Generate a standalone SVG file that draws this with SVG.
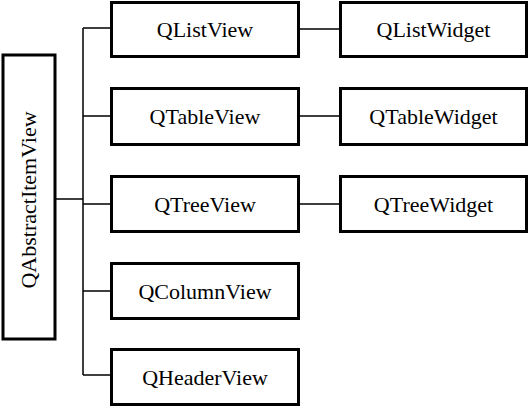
<svg xmlns="http://www.w3.org/2000/svg" width="529" height="408" viewBox="0 0 529 408">
<style>
.box{fill:#fff;stroke:#000;stroke-width:3}
.lbl{font-family:"Liberation Serif","Times New Roman",serif;font-size:22px;fill:#000;text-anchor:middle}
.conn{stroke:#000;stroke-width:1.5;fill:none}
</style>
<rect width="529" height="408" fill="#fff"/>
<g id="connectors">
<path class="conn" d="M55 199H83M83 28V375M83 28H110M83 116H110M83 204H110M83 291H110M83 375H110M300 29H339M300 116H339M300 204H339"/>
</g>
<g id="QAbstractItemView"><rect class="box" x="3" y="55" width="52" height="284"/><text class="lbl" transform="translate(35.5,200) rotate(-90)">QAbstractItemView</text></g>
<g id="QListView"><rect class="box" x="111.5" y="2.5" width="187" height="54"/><text class="lbl" x="205" y="37">QListView</text></g>
<g id="QTableView"><rect class="box" x="111.5" y="88.5" width="187" height="56"/><text class="lbl" x="205" y="124">QTableView</text></g>
<g id="QTreeView"><rect class="box" x="111.5" y="176.5" width="187" height="55"/><text class="lbl" x="205" y="211.5">QTreeView</text></g>
<g id="QColumnView"><rect class="box" x="111.5" y="263.5" width="187" height="55"/><text class="lbl" x="205" y="298.5">QColumnView</text></g>
<g id="QHeaderView"><rect class="box" x="111.5" y="349.5" width="187" height="55"/><text class="lbl" x="205" y="384.5">QHeaderView</text></g>
<g id="QListWidget"><rect class="box" x="340.5" y="2.5" width="186" height="54"/><text class="lbl" x="433.5" y="37">QListWidget</text></g>
<g id="QTableWidget"><rect class="box" x="340.5" y="88.5" width="186" height="56"/><text class="lbl" x="433.5" y="124">QTableWidget</text></g>
<g id="QTreeWidget"><rect class="box" x="340.5" y="176.5" width="186" height="55"/><text class="lbl" x="433.5" y="211.5">QTreeWidget</text></g>
</svg>
